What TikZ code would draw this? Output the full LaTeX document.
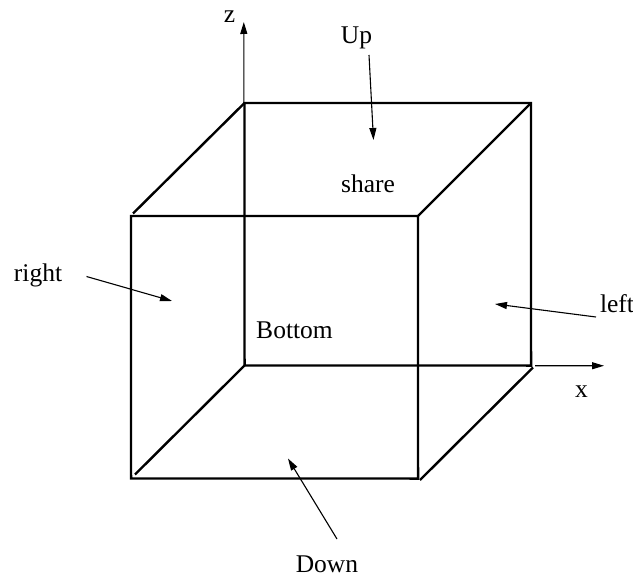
\documentclass[tikz,border=0pt]{standalone}
\usepackage{fontspec}
\setmainfont{Liberation Serif}
\usetikzlibrary{arrows.meta}
\tikzset{
  edge/.style={line width=2.4pt,black,line cap=butt,line join=miter},
  arr/.style={line width=1.1pt,black,-{Stealth[length=12pt,width=7pt,inset=0pt]}},
  lbl/.style={font=\fontsize{25.5pt}{28pt}\selectfont,inner sep=0pt,text=black,anchor=base},
}
\begin{document}
\begin{tikzpicture}[x=1pt,y=-1pt]
\useasboundingbox (0,0) rectangle (633,578);
\fill[white] (0,0) rectangle (633,578);
\coordinate (ftl) at (131,216);
\coordinate (ftr) at (418,216.05);
\coordinate (fbl) at (131.05,478.5);
\coordinate (fbr) at (418.05,478.55);
\coordinate (btl) at (244.5,103);
\coordinate (btr) at (531,103.05);
\coordinate (bbl) at (244.55,365.5);
\coordinate (bbr) at (531.05,365.55);
\coordinate (d1a) at (133,213.5);
\coordinate (d2a) at (418,216);
\coordinate (d2b) at (530.5,103.5);
\coordinate (d3a) at (135,474.5);
\coordinate (d4a) at (420,480);
\coordinate (d4b) at (533,367.5);
\draw[edge] (ftl) -- (ftr) -- (fbr) -- (fbl) -- cycle;
\draw[edge] (btl) -- (btr) -- (bbr) -- (bbl) -- cycle;
\draw[edge] (d1a) -- (btl) (d2a) -- (d2b) (d3a) -- (bbl) (d4a) -- (d4b);
\node[lbl] (z) at (229.5,22.5) {z};
\node[lbl] (x) at (581.5,397.5) {x};
\node[lbl] (up) at (356.5,43.5) {Up};
\node[lbl] (share) at (368,192.5) {share};
\node[lbl] (right) at (38,281.5) {right};
\node[lbl] (left) at (617,312.5) {left};
\node[lbl] (bottom) at (294.5,338.5) {Bottom};
\node[lbl] (down) at (327,572) {Down};
\coordinate (zb) at (243.85,103);
\coordinate (zt) at (243.8,22);
\coordinate (xa) at (535,365.7);
\coordinate (xt) at (604,365.75);
\coordinate (upa) at (369,55); \coordinate (upb) at (373.5,140);
\coordinate (ra) at (86.5,276.5); \coordinate (rb) at (172,301);
\coordinate (la) at (596,317); \coordinate (lb) at (495,304);
\coordinate (da) at (337,539); \coordinate (db) at (288,458.5);
\draw[arr] (zb) -- (zt);
\draw[arr] (xa) -- (xt);
\draw[arr] (upa) -- (upb);
\draw[arr] (ra) -- (rb);
\draw[arr] (la) -- (lb);
\draw[arr] (da) -- (db);
\end{tikzpicture}
\end{document}
